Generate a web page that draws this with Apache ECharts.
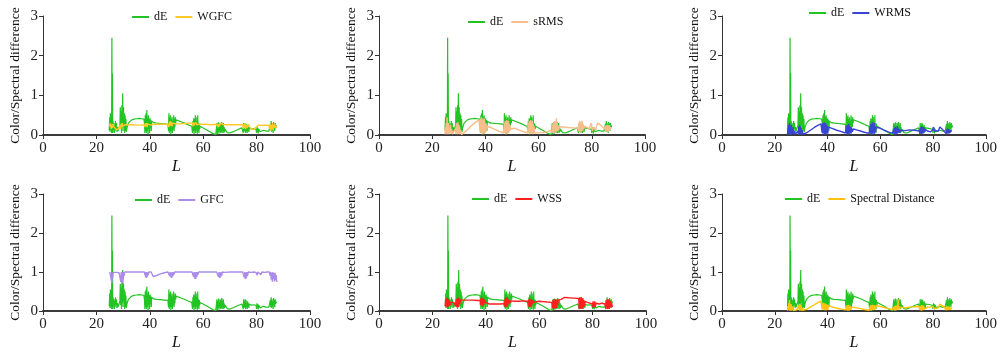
<!DOCTYPE html>
<html>
<head>
<meta charset="utf-8">
<script src="https://cdn.jsdelivr.net/npm/echarts@6/dist/echarts.min.js"></script>
<style>
  html, body { margin: 0; padding: 0; background: #fff; }
  #main { width: 1000px; height: 352px; }
</style>
</head>
<body>
<div id="main"></div>
<script>
// [L, difference] pairs
var dE = [
  [24.8,0.12],[25.0,0.45],[25.1,0.08],[25.25,0.55],[25.4,0.1],[25.55,0.3],[25.7,0.05],[25.8,2.45],[25.9,0.1],[26.0,1.55],[26.1,0.05],[26.25,0.35],[26.4,0.12],[26.55,0.3],[26.7,0.05],[26.85,0.25],[27.0,0.1],[27.15,0.35],[27.3,0.15],[27.5,0.3],[27.7,0.08],[27.9,0.2],[28.1,0.1],[28.3,0.15],[28.6,0.1],
  [28.8,0.25],[28.95,0.7],[29.1,0.15],[29.25,0.6],[29.4,0.05],[29.55,0.75],[29.7,0.2],[29.85,1.05],[30.0,0.1],[30.15,0.7],[30.3,0.25],[30.45,0.55],[30.6,0.05],[30.75,0.5],[30.9,0.1],[31.05,0.4],[31.2,0.08],
  [31.5,0.2],[32,0.3],[33,0.37],[34,0.4],[35,0.41],[36,0.42],[37,0.41],[37.8,0.4],
  [38.0,0.3],[38.15,0.05],[38.3,0.5],[38.45,0.1],[38.6,0.55],[38.75,0.05],[38.9,0.63],[39.05,0.1],[39.2,0.45],[39.35,0.02],[39.5,0.5],[39.65,0.15],[39.8,0.4],[39.95,0.05],[40.1,0.42],[40.25,0.2],[40.4,0.38],[40.55,0.1],[40.7,0.35],[40.85,0.3],
  [41.5,0.31],[42.5,0.3],[44,0.29],[45.5,0.28],[46.8,0.27],
  [47.0,0.1],[47.15,0.55],[47.3,0.05],[47.45,0.45],[47.6,0.1],[47.75,0.5],[47.9,0.02],[48.05,0.4],[48.2,0.1],[48.35,0.45],[48.5,0.05],[48.65,0.35],[48.8,0.15],[48.95,0.5],[49.1,0.1],[49.25,0.4],[49.4,0.2],[49.55,0.45],[49.7,0.3],[49.85,0.38],
  [50.5,0.36],[51.5,0.34],[53,0.3],[54.5,0.25],[55.7,0.22],
  [56.0,0.05],[56.15,0.35],[56.3,0.1],[56.45,0.42],[56.6,0.02],[56.75,0.4],[56.9,0.1],[57.05,0.5],[57.2,0.05],[57.35,0.45],[57.5,0.12],[57.65,0.35],[57.8,0.03],[57.95,0.5],[58.1,0.1],[58.25,0.3],[58.4,0.05],[58.55,0.28],[58.7,0.15],[58.85,0.22],
  [59.5,0.2],[60.5,0.16],[62,0.1],[63.5,0.04],[64.7,0.01],
  [65.0,0.05],[65.15,0.3],[65.3,0.02],[65.45,0.25],[65.6,0.08],[65.75,0.32],[65.9,0.03],[66.05,0.22],[66.2,0.1],[66.35,0.3],[66.5,0.05],[66.65,0.28],[66.8,0.08],[66.95,0.33],[67.1,0.05],[67.25,0.25],[67.4,0.1],[67.55,0.3],[67.7,0.05],[67.85,0.2],[68.0,0.08],[68.15,0.15],
  [69,0.06],[70,0.05],[71.5,0.09],[73,0.14],[74.5,0.18],
  [75.0,0.05],[75.15,0.3],[75.3,0.08],[75.45,0.25],[75.6,0.1],[75.75,0.3],[75.9,0.05],[76.05,0.28],[76.2,0.1],[76.35,0.22],[76.5,0.05],[76.65,0.25],[76.8,0.12],[76.95,0.2],[77.1,0.08],[77.25,0.18],
  [78,0.15],[79,0.16],[79.8,0.14],
  [80.0,0.05],[80.15,0.2],[80.3,0.08],[80.45,0.18],[80.6,0.04],[80.75,0.15],[80.9,0.1],[81.1,0.18],[81.3,0.08],[81.5,0.12],
  [82.5,0.12],[83.5,0.1],[84.6,0.1],
  [85.0,0.05],[85.15,0.28],[85.3,0.1],[85.45,0.35],[85.6,0.08],[85.75,0.3],[85.9,0.12],[86.05,0.25],[86.2,0.05],[86.35,0.33],[86.5,0.15],[86.65,0.28],[86.8,0.1],[86.95,0.3],[87.1,0.18],[87.25,0.25],[87.4,0.2],[87.5,0.28]
];

var wgfc = [
  [25.0,0.3],[25.2,0.2],[25.4,0.28],[25.6,0.15],[25.8,0.25],[26.0,0.18],[26.2,0.28],[26.5,0.22],[26.8,0.2],[27.2,0.15],[27.6,0.12],[28.0,0.14],[28.5,0.18],[28.9,0.25],[29.1,0.15],[29.3,0.28],[29.5,0.2],[29.7,0.3],[29.9,0.22],[30.1,0.27],[30.4,0.24],[30.8,0.26],[31.5,0.26],[33,0.26],[35,0.25],[37,0.25],
  [38.0,0.26],[38.2,0.2],[38.4,0.3],[38.6,0.22],[38.8,0.3],[39.0,0.2],[39.2,0.28],[39.5,0.24],[39.8,0.29],[40.2,0.25],[40.6,0.27],[41.5,0.27],[43,0.27],[45,0.27],[46.8,0.27],
  [47.1,0.2],[47.3,0.32],[47.5,0.22],[47.7,0.35],[47.9,0.24],[48.1,0.33],[48.3,0.22],[48.6,0.3],[48.9,0.25],[49.3,0.3],[49.8,0.28],[51,0.28],[53,0.29],[55,0.3],
  [56.0,0.3],[56.2,0.22],[56.4,0.32],[56.6,0.25],[56.8,0.3],[57.0,0.22],[57.3,0.32],[57.6,0.26],[58,0.3],[58.5,0.27],[59,0.27],[61,0.27],[63,0.26],
  [65,0.27],[65.2,0.22],[65.4,0.3],[65.6,0.2],[65.8,0.28],[66.1,0.22],[66.4,0.3],[66.7,0.25],[67.0,0.28],[67.5,0.26],[68.2,0.26],[70,0.26],[72,0.26],[74.8,0.26],
  [75.1,0.15],[75.3,0.28],[75.5,0.18],[75.7,0.3],[75.9,0.15],[76.1,0.25],[76.4,0.18],[76.8,0.27],[77.3,0.22],[78,0.15],[79,0.14],
  [79.8,0.2],[80.1,0.25],[80.4,0.22],[80.8,0.25],[81.3,0.2],[82,0.24],[83,0.25],[84.5,0.24],
  [85.0,0.15],[85.2,0.28],[85.4,0.1],[85.6,0.25],[85.8,0.15],[86.0,0.3],[86.2,0.12],[86.4,0.25],[86.6,0.18],[86.8,0.28],[87.0,0.2],[87.3,0.22],[87.6,0.2]
];

var srms = [
  [24.8,0.02],[25.0,0.2],[25.15,0.02],[25.3,0.3],[25.45,0.05],[25.6,0.45],[25.75,0.02],[25.9,0.25],[26.05,0.05],[26.2,0.3],[26.35,0.02],[26.5,0.2],[26.7,0.05],[26.9,0.25],[27.1,0.03],[27.3,0.15],[27.6,0.02],[28.0,0.08],[28.4,0.03],
  [28.8,0.15],[28.95,0.02],[29.1,0.3],[29.25,0.05],[29.4,0.28],[29.55,0.02],[29.7,0.32],[29.85,0.05],[30.0,0.25],[30.15,0.02],[30.3,0.2],[30.5,0.05],[30.7,0.12],[31.0,0.01],
  [32,0.06],[33.5,0.15],[35,0.25],[36.5,0.33],[37.6,0.38],
  [38.0,0.1],[38.15,0.4],[38.3,0.05],[38.45,0.45],[38.6,0.1],[38.75,0.38],[38.9,0.02],[39.05,0.42],[39.2,0.08],[39.35,0.35],[39.5,0.03],[39.65,0.4],[39.8,0.1],[39.95,0.3],[40.1,0.05],[40.25,0.28],[40.4,0.15],[40.6,0.22],
  [42,0.19],[43.5,0.14],[45,0.1],[46.8,0.05],
  [47.0,0.02],[47.15,0.3],[47.3,0.05],[47.45,0.35],[47.6,0.02],[47.75,0.3],[47.9,0.08],[48.05,0.38],[48.2,0.03],[48.35,0.3],[48.5,0.1],[48.65,0.35],[48.8,0.05],[48.95,0.28],[49.1,0.1],[49.3,0.25],[49.5,0.15],[49.8,0.2],
  [51,0.17],[52.5,0.13],[54,0.09],[55.8,0.05],
  [56.0,0.02],[56.15,0.3],[56.3,0.05],[56.45,0.35],[56.6,0.02],[56.75,0.32],[56.9,0.08],[57.05,0.38],[57.2,0.03],[57.35,0.3],[57.5,0.1],[57.65,0.35],[57.8,0.02],[57.95,0.28],[58.1,0.08],[58.3,0.22],[58.5,0.05],[58.8,0.1],
  [60,0.06],[61.5,0.06],[63,0.08],[64.7,0.12],
  [65.0,0.05],[65.15,0.25],[65.3,0.08],[65.45,0.3],[65.6,0.05],[65.75,0.28],[65.9,0.1],[66.05,0.35],[66.2,0.05],[66.35,0.3],[66.5,0.1],[66.7,0.42],[66.85,0.08],[67.0,0.3],[67.15,0.1],[67.3,0.25],[67.5,0.12],[67.8,0.2],[68.2,0.18],
  [69.5,0.2],[71,0.19],[73,0.18],[74.8,0.17],
  [75.0,0.1],[75.15,0.3],[75.3,0.08],[75.45,0.35],[75.6,0.1],[75.75,0.32],[75.9,0.05],[76.05,0.3],[76.2,0.12],[76.35,0.36],[76.5,0.1],[76.7,0.28],[76.9,0.15],[77.2,0.22],
  [78,0.2],[79,0.15],[79.8,0.3],[80.2,0.1],[80.8,0.2],[81.4,0.12],[82.2,0.3],[83,0.27],[84,0.2],[84.8,0.15],
  [85.0,0.1],[85.15,0.22],[85.3,0.08],[85.45,0.25],[85.6,0.1],[85.75,0.2],[85.9,0.12],[86.05,0.25],[86.2,0.08],[86.35,0.22],[86.5,0.1],[86.65,0.25],[86.8,0.12],[87.0,0.2],[87.2,0.15],[87.5,0.18]
];

var wrms = [
  [24.8,0.01],[25.0,0.15],[25.15,0.02],[25.3,0.25],[25.45,0.03],[25.6,0.3],[25.75,0.01],[25.9,0.2],[26.05,0.04],[26.2,0.25],[26.35,0.01],[26.5,0.15],[26.7,0.03],[26.9,0.2],[27.1,0.02],[27.4,0.1],[27.8,0.02],[28.3,0.05],
  [28.8,0.1],[28.95,0.01],[29.1,0.2],[29.25,0.03],[29.4,0.25],[29.55,0.01],[29.7,0.22],[29.85,0.04],[30.0,0.18],[30.15,0.01],[30.35,0.12],[30.6,0.03],[31.0,0.01],
  [32,0.05],[33.5,0.12],[35,0.19],[36.5,0.25],[37.5,0.28],
  [38.0,0.05],[38.15,0.3],[38.3,0.03],[38.45,0.25],[38.6,0.08],[38.75,0.32],[38.9,0.02],[39.05,0.28],[39.2,0.05],[39.35,0.3],[39.5,0.02],[39.65,0.25],[39.8,0.08],[39.95,0.22],[40.1,0.03],[40.3,0.2],[40.6,0.18],
  [42,0.16],[43.5,0.12],[45,0.09],[46.8,0.05],
  [47.0,0.01],[47.15,0.22],[47.3,0.03],[47.45,0.25],[47.6,0.01],[47.75,0.2],[47.9,0.05],[48.05,0.28],[48.2,0.02],[48.35,0.22],[48.5,0.06],[48.7,0.2],[48.9,0.03],[49.1,0.18],[49.4,0.08],[49.8,0.15],
  [51,0.13],[52.5,0.1],[54,0.07],[55.8,0.04],
  [56.0,0.01],[56.15,0.22],[56.3,0.03],[56.45,0.28],[56.6,0.01],[56.75,0.25],[56.9,0.05],[57.05,0.32],[57.2,0.02],[57.35,0.25],[57.5,0.06],[57.7,0.3],[57.85,0.03],[58.0,0.22],[58.2,0.08],[58.5,0.2],[58.9,0.2],
  [60,0.17],[61.5,0.12],[63,0.08],[64.7,0.04],
  [65.0,0.01],[65.15,0.15],[65.3,0.03],[65.45,0.18],[65.6,0.01],[65.75,0.2],[65.9,0.05],[66.05,0.15],[66.2,0.02],[66.4,0.22],[66.55,0.04],[66.7,0.18],[66.9,0.06],[67.1,0.15],[67.3,0.05],[67.6,0.12],[68.0,0.1],
  [69.5,0.11],[71,0.13],[73,0.12],[74.8,0.1],
  [75.0,0.03],[75.15,0.18],[75.3,0.04],[75.45,0.2],[75.6,0.02],[75.75,0.22],[75.9,0.05],[76.05,0.18],[76.2,0.03],[76.4,0.2],[76.6,0.06],[76.8,0.15],[77.1,0.1],
  [78,0.1],[79,0.08],[79.8,0.12],[80.2,0.2],[80.6,0.1],[81.2,0.12],[82,0.1],[82.6,0.2],[83.3,0.17],[84.2,0.1],[84.8,0.08],
  [85.0,0.03],[85.15,0.14],[85.3,0.05],[85.45,0.16],[85.6,0.03],[85.75,0.14],[85.9,0.06],[86.05,0.15],[86.2,0.04],[86.4,0.13],[86.6,0.06],[86.8,0.12],[87.0,0.08],[87.3,0.1]
];

var gfc = [
  [25.0,1.0],[25.3,0.98],[25.6,0.95],[25.8,0.72],[25.95,0.98],[26.1,0.85],[26.3,0.99],[26.6,0.97],[27,1.0],[27.5,0.99],[28,1.0],[28.5,0.98],
  [29.0,0.95],[29.15,0.75],[29.3,1.0],[29.45,0.7],[29.6,0.98],[29.75,0.72],[29.9,1.0],[30.05,0.8],[30.2,1.0],[30.4,0.9],[30.6,1.0],
  [31.5,1.0],[33,1.0],[35,1.0],[37,1.0],
  [38.0,1.0],[38.15,0.92],[38.3,1.0],[38.45,0.87],[38.6,0.99],[38.75,0.85],[38.9,1.0],[39.05,0.88],[39.2,0.99],[39.4,0.92],[39.6,1.0],[40,0.97],[40.5,1.0],[40.9,0.97],
  [41.3,0.88],[42.5,0.91],[44,0.95],[45.5,0.98],[46.8,1.0],
  [47.2,0.97],[47.4,0.9],[47.6,1.0],[47.8,0.87],[48.0,0.99],[48.2,0.85],[48.4,1.0],[48.6,0.89],[48.8,1.0],[49.0,0.93],[49.3,1.0],
  [50,1.0],[52,1.0],[54,1.0],[55.8,1.0],
  [56.2,0.95],[56.4,0.88],[56.6,1.0],[56.8,0.83],[57.0,0.99],[57.2,0.82],[57.4,1.0],[57.6,0.87],[57.8,1.0],[58.0,0.93],[58.3,1.0],
  [59,1.0],[61,1.0],[63,1.0],[65,1.0],
  [65.5,0.96],[65.7,0.88],[65.9,1.0],[66.1,0.85],[66.3,0.99],[66.5,0.86],[66.7,1.0],[66.9,0.9],[67.2,1.0],
  [68,0.99],[70,1.0],[72,1.0],[74.8,1.0],
  [75.2,0.95],[75.4,0.86],[75.6,1.0],[75.8,0.82],[76.0,0.99],[76.2,0.84],[76.4,1.0],[76.6,0.9],[76.9,1.0],
  [78,0.99],[79,1.0],[79.8,0.99],[80.2,0.92],[80.5,1.0],[81,0.97],[81.6,0.93],[82,1.0],[83,0.99],[84,1.0],[84.8,1.0],
  [85.1,0.9],[85.3,1.0],[85.5,0.8],[85.7,0.98],[85.9,0.75],[86.1,1.0],[86.3,0.82],[86.5,0.97],[86.7,0.76],[86.9,0.98],[87.1,0.8],[87.3,0.92],[87.5,0.75],[87.7,0.78]
];

var wss = [
  [24.8,0.12],[25.0,0.3],[25.15,0.1],[25.3,0.32],[25.45,0.12],[25.6,0.35],[25.75,0.1],[25.9,0.28],[26.05,0.12],[26.2,0.3],[26.35,0.15],[26.5,0.25],[26.7,0.15],[27.0,0.22],[27.5,0.2],[28,0.22],[28.5,0.2],
  [28.8,0.12],[28.95,0.3],[29.1,0.1],[29.25,0.32],[29.4,0.12],[29.55,0.35],[29.7,0.1],[29.85,0.3],[30.0,0.15],[30.15,0.32],[30.3,0.18],[30.5,0.28],[30.8,0.27],
  [31.5,0.28],[33,0.28],[35,0.28],[37,0.27],[37.9,0.27],
  [38.0,0.15],[38.15,0.32],[38.3,0.15],[38.45,0.35],[38.6,0.18],[38.75,0.3],[38.9,0.12],[39.05,0.33],[39.2,0.16],[39.35,0.3],[39.5,0.2],[39.7,0.28],[39.9,0.22],[40.2,0.25],[40.6,0.2],[41.2,0.18],
  [42.5,0.18],[44,0.18],[45.5,0.18],[46.8,0.19],
  [47.0,0.12],[47.15,0.3],[47.3,0.1],[47.45,0.35],[47.6,0.15],[47.75,0.32],[47.9,0.1],[48.05,0.35],[48.2,0.15],[48.35,0.3],[48.5,0.18],[48.7,0.28],[48.9,0.2],[49.2,0.26],[49.6,0.25],
  [51,0.25],[52.5,0.25],[54,0.26],[55.8,0.25],
  [56.0,0.12],[56.15,0.3],[56.3,0.1],[56.45,0.32],[56.6,0.15],[56.75,0.28],[56.9,0.1],[57.05,0.3],[57.2,0.15],[57.35,0.27],[57.5,0.18],[57.7,0.28],[57.9,0.22],[58.2,0.26],[58.6,0.26],
  [60,0.25],[61.5,0.24],[63,0.23],[64.7,0.22],
  [65.0,0.08],[65.15,0.28],[65.3,0.05],[65.45,0.3],[65.6,0.08],[65.75,0.25],[65.9,0.05],[66.05,0.3],[66.2,0.1],[66.35,0.27],[66.5,0.08],[66.7,0.3],[66.9,0.15],[67.2,0.28],[67.6,0.25],[68.2,0.3],
  [69.5,0.35],[71,0.34],[73,0.33],[74.8,0.32],
  [75.0,0.05],[75.15,0.35],[75.3,0.08],[75.45,0.32],[75.6,0.05],[75.75,0.36],[75.9,0.1],[76.05,0.3],[76.2,0.06],[76.35,0.33],[76.5,0.1],[76.7,0.28],[76.9,0.12],[77.2,0.25],
  [78,0.22],[79,0.2],[79.8,0.18],
  [80.0,0.1],[80.15,0.25],[80.3,0.08],[80.45,0.22],[80.6,0.12],[80.8,0.25],[81.0,0.1],[81.3,0.2],[81.6,0.15],
  [82.5,0.18],[83.5,0.2],[84.6,0.18],
  [85.0,0.05],[85.15,0.28],[85.3,0.08],[85.45,0.3],[85.6,0.05],[85.75,0.25],[85.9,0.1],[86.05,0.3],[86.2,0.05],[86.35,0.27],[86.5,0.12],[86.7,0.25],[86.9,0.08],[87.1,0.2],[87.4,0.1]
];

var sd = [
  [24.8,0.01],[25.0,0.1],[25.15,0.02],[25.3,0.2],[25.45,0.03],[25.6,0.28],[25.75,0.01],[25.9,0.15],[26.05,0.03],[26.2,0.18],[26.35,0.01],[26.5,0.1],[26.7,0.02],[26.9,0.12],[27.1,0.01],[27.4,0.06],[27.8,0.01],[28.3,0.03],
  [28.8,0.06],[28.95,0.01],[29.1,0.14],[29.25,0.02],[29.4,0.18],[29.55,0.01],[29.7,0.15],[29.85,0.03],[30.0,0.12],[30.15,0.01],[30.35,0.08],[30.6,0.02],[31.0,0.01],
  [32,0.04],[33.5,0.1],[35,0.16],[36.5,0.22],[37.5,0.25],
  [38.0,0.05],[38.15,0.2],[38.3,0.03],[38.45,0.22],[38.6,0.06],[38.75,0.18],[38.9,0.02],[39.05,0.2],[39.2,0.05],[39.35,0.16],[39.5,0.02],[39.65,0.18],[39.8,0.06],[39.95,0.15],[40.1,0.03],[40.3,0.14],[40.6,0.12],
  [42,0.1],[43.5,0.07],[45,0.05],[46.8,0.03],
  [47.0,0.01],[47.15,0.12],[47.3,0.02],[47.45,0.15],[47.6,0.01],[47.75,0.12],[47.9,0.04],[48.05,0.16],[48.2,0.01],[48.35,0.12],[48.5,0.05],[48.7,0.12],[48.9,0.03],[49.1,0.1],[49.4,0.06],[49.8,0.1],
  [51,0.08],[52.5,0.06],[54,0.04],[55.8,0.02],
  [56.0,0.01],[56.15,0.12],[56.3,0.02],[56.45,0.15],[56.6,0.01],[56.75,0.13],[56.9,0.04],[57.05,0.16],[57.2,0.02],[57.35,0.13],[57.5,0.05],[57.7,0.15],[57.85,0.03],[58.0,0.12],[58.2,0.06],[58.5,0.14],[58.9,0.14],
  [60,0.12],[61.5,0.09],[63,0.06],[64.7,0.04],
  [65.0,0.01],[65.15,0.1],[65.3,0.02],[65.45,0.12],[65.6,0.01],[65.75,0.14],[65.9,0.03],[66.05,0.1],[66.2,0.02],[66.4,0.15],[66.55,0.04],[66.75,0.3],[66.9,0.05],[67.1,0.12],[67.3,0.04],[67.6,0.1],[68.0,0.06],
  [69.5,0.08],[71,0.1],[73,0.11],[74.8,0.12],
  [75.0,0.02],[75.15,0.12],[75.3,0.03],[75.45,0.14],[75.6,0.01],[75.75,0.15],[75.9,0.04],[76.05,0.12],[76.2,0.02],[76.4,0.14],[76.6,0.05],[76.8,0.1],[77.1,0.08],
  [78,0.1],[79,0.1],[79.8,0.12],[80.2,0.15],[80.6,0.06],[81.2,0.1],[82,0.08],[82.6,0.18],[83.3,0.16],[84.2,0.1],[84.8,0.06],
  [85.0,0.02],[85.15,0.1],[85.3,0.03],[85.45,0.12],[85.6,0.02],[85.75,0.1],[85.9,0.04],[86.05,0.12],[86.2,0.03],[86.4,0.1],[86.6,0.04],[86.8,0.09],[87.0,0.05],[87.3,0.08]
];

var xTicks = [0, 20, 40, 60, 80, 100];
var yTicks = [0, 1, 2, 3];

var panels = [
  {name: 'WGFC', data: wgfc, color: '#ffc928', grid: [43, 16, 267, 119], legend: [127, 6]},
  {name: 'sRMS', data: srms, color: '#f8bd8a', grid: [379, 16, 266, 119], legend: [463, 11]},
  {name: 'WRMS', data: wrms, color: '#3a44d2', grid: [722, 16, 265, 119], legend: [804, 2]},
  {name: 'GFC', data: gfc, color: '#ab8ce9', grid: [43, 194, 267, 119], legend: [130, 189]},
  {name: 'WSS', data: wss, color: '#ff1f1f', grid: [379, 194, 267, 119], legend: [467, 188]},
  {name: 'Spectral Distance', data: sd, color: '#ffc20e', grid: [722, 194, 264, 119], legend: [780, 188]}
];

var font = 'Liberation Serif';
var grids = [], xAxes = [], yAxes = [], series = [], legends = [];

panels.forEach(function (p, i) {
    grids.push({left: p.grid[0], top: p.grid[1], width: p.grid[2], height: p.grid[3]});
    xAxes.push({
        type: 'value', gridIndex: i, min: xTicks[0], max: xTicks[xTicks.length - 1], interval: 20,
        name: 'L', nameLocation: 'middle', nameGap: 24,
        nameTextStyle: {fontFamily: font, fontStyle: 'italic', fontSize: 16, color: '#111'},
        axisLine: {lineStyle: {color: '#3a3a3a', width: 2}},
        axisTick: {show: true, length: 4, lineStyle: {color: '#333'}},
        axisLabel: {fontFamily: font, fontSize: 15, color: '#222', margin: 6},
        splitLine: {show: false}
    });
    yAxes.push({
        type: 'value', gridIndex: i, min: yTicks[0], max: yTicks[yTicks.length - 1], interval: 1,
        name: 'Color/Spectral difference', nameLocation: 'middle', nameGap: 21,
        nameTextStyle: {fontFamily: font, fontSize: 13.5, color: '#111'},
        axisLine: {show: true, lineStyle: {color: '#333', width: 1}},
        axisTick: {show: true, length: 4, lineStyle: {color: '#333'}},
        axisLabel: {fontFamily: font, fontSize: 15, color: '#222', margin: 5},
        splitLine: {show: false}
    });
    series.push({
        name: 'dE', type: 'line', xAxisIndex: i, yAxisIndex: i, data: dE,
        symbol: 'none', lineStyle: {width: 1.2, color: '#22c322'}, itemStyle: {color: '#22c322'},
        animation: false
    });
    series.push({
        name: p.name, type: 'line', xAxisIndex: i, yAxisIndex: i, data: p.data,
        symbol: 'none', lineStyle: {width: 1.4, color: p.color}, itemStyle: {color: p.color},
        animation: false
    });
    legends.push({
        left: p.legend[0], top: p.legend[1], orient: 'horizontal',
        data: ['dE', p.name], icon: 'rect', itemWidth: 17, itemHeight: 2, itemGap: 8,
        textStyle: {fontFamily: font, fontSize: 12, color: '#111'},
        selectedMode: false
    });
});

var myChart = echarts.init(document.getElementById('main'));
myChart.setOption({
    backgroundColor: '#fff',
    animation: false,
    grid: grids,
    xAxis: xAxes,
    yAxis: yAxes,
    legend: legends,
    series: series
});
</script>
</body>
</html>
